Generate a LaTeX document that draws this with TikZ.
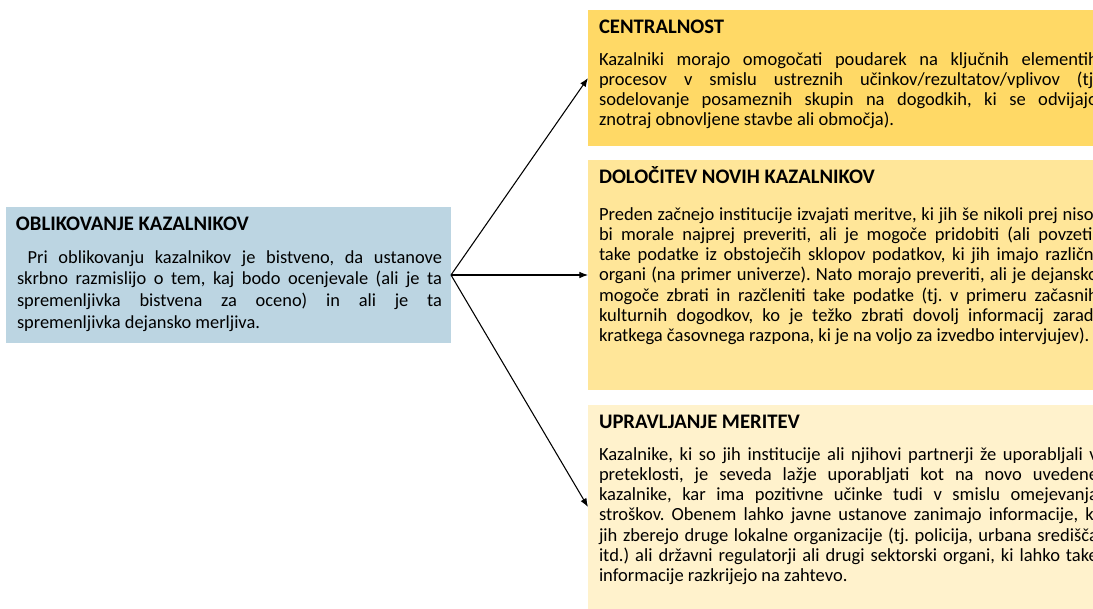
\documentclass[tikz,border=0pt]{standalone}
\usepackage{fontspec}
\setmainfont{Carlito}
\usepackage{tikz}
\usetikzlibrary{arrows.meta}

\definecolor{boxblue}{HTML}{BCD5E2}
\definecolor{boxgold}{HTML}{FFD966}
\definecolor{boxyellow}{HTML}{FFE699}
\definecolor{boxcream}{HTML}{FFF2CC}

\frenchspacing
\hyphenpenalty=10000
\tolerance=10000

\begin{document}
\begin{tikzpicture}[x=0.75pt, y=-0.75pt,
  every node/.style={inner sep=0pt, outer sep=0pt},
  panel/.style={anchor=north west, minimum width=#1},
  boxtitle/.style={anchor=base west, font=\fontsize{15.5}{18}\selectfont\bfseries},
  boxtext/.style={anchor=base west, font=\fontsize{13.9}{15.2}\selectfont},
  lefttext/.style={anchor=base west, font=\fontsize{13.8}{16.3}\selectfont},
  link/.style={-{Latex[length=6.5pt, width=5pt]}, line width=0.8pt}]
\useasboundingbox (0,0) rectangle (1093,608);
\clip (0,0) rectangle (1093,608);

\node[panel=333.75pt, minimum height=102pt, fill=boxblue] (ind) at (6,207) {};
\node[panel=405pt, minimum height=102pt, fill=boxgold] (centr) at (588,10) {};
\node[panel=405pt, minimum height=172.5pt, fill=boxyellow] (nov) at (588,160) {};
\node[panel=405pt, minimum height=153pt, fill=boxcream] (uprav) at (588,405) {};

\node[boxtitle] (ind-t) at (16,230) {OBLIKOVANJE KAZALNIKOV};
\node[lefttext] (ind-b) at (17,263) {\parbox[t]{318.75pt}{\ Pri oblikovanju kazalnikov je bistveno, da ustanove\linebreak
skrbno razmislijo o tem, kaj bodo ocenjevale (ali je ta\linebreak
spremenljivka bistvena za oceno) in ali je ta\linebreak
spremenljivka dejansko merljiva.}};

\node[boxtitle] (centr-t) at (599,33) {CENTRALNOST};
\node[boxtext] (centr-b) at (599,65) {\parbox[t]{374.25pt}{Kazalniki morajo omogočati poudarek na ključnih elementih\linebreak
procesov v smislu ustreznih učinkov/rezultatov/vplivov (tj.\linebreak
sodelovanje posameznih skupin na dogodkih, ki se odvijajo\linebreak
znotraj obnovljene stavbe ali območja).}};

\node[boxtitle] (nov-t) at (599,183) {DOLOČITEV NOVIH KAZALNIKOV};
\node[boxtext] (nov-b) at (599,220) {\parbox[t]{374.25pt}{Preden začnejo institucije izvajati meritve, ki jih še nikoli prej niso,\linebreak
bi morale najprej preveriti, ali je mogoče pridobiti (ali povzeti)\linebreak
take podatke iz obstoječih sklopov podatkov, ki jih imajo različni\linebreak
organi (na primer univerze). Nato morajo preveriti, ali je dejansko\linebreak
mogoče zbrati in razčleniti take podatke (tj. v primeru začasnih\linebreak
kulturnih dogodkov, ko je težko zbrati dovolj informacij zaradi\linebreak
kratkega časovnega razpona, ki je na voljo za izvedbo intervjujev).}};

\node[boxtitle] (uprav-t) at (599,428) {UPRAVLJANJE MERITEV};
\node[boxtext] (uprav-b) at (599,460) {\parbox[t]{374.25pt}{Kazalnike, ki so jih institucije ali njihovi partnerji že uporabljali v\linebreak
preteklosti, je seveda lažje uporabljati kot na novo uvedene\linebreak
kazalnike, kar ima pozitivne učinke tudi v smislu omejevanja\linebreak
stroškov. Obenem lahko javne ustanove zanimajo informacije, ki\linebreak
jih zberejo druge lokalne organizacije (tj. policija, urbana središča\linebreak
itd.) ali državni regulatorji ali drugi sektorski organi, ki lahko take\linebreak
informacije razkrijejo na zahtevo.}};

\draw[link] (ind.east) -- (centr.west);
\draw[link] (ind.east) -- (nov.west);
\draw[link] (ind.east) -- (uprav.west);
\end{tikzpicture}
\end{document}
